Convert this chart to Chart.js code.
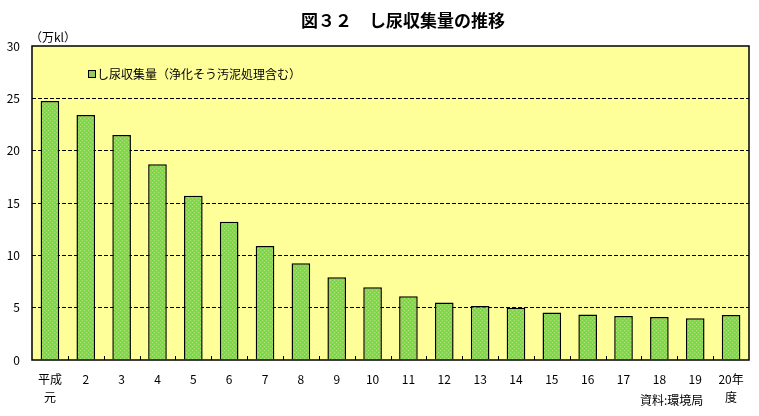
<!DOCTYPE html>
<html>
<head>
<meta charset="utf-8">
<script src="https://cdn.jsdelivr.net/npm/chart.js@4.4.0/dist/chart.umd.min.js"></script>
<style>
  html, body { margin: 0; padding: 0; background: #fff; }
  #wrap { width: 759px; height: 416px; position: relative; }
</style>
</head>
<body>
<div id="wrap"><canvas id="chart" width="759" height="416"></canvas></div>
<script>
// 年度ラベル
let years = [['平成', '元'], '2', '3', '4', '5', '6', '7', '8', '9', '10',
    '11', '12', '13', '14', '15', '16', '17', '18', '19', ['20年', '度']];

// し尿収集量（万kl）
let collected = [24.75, 23.4, 21.5, 18.7, 15.7, 13.2, 10.9, 9.25, 7.9, 6.95,
    6.1, 5.5, 5.15, 5.0, 4.55, 4.35, 4.2, 4.1, 4.0, 4.3];

let yTicks = [0, 5, 10, 15, 20, 25, 30];

let titleText = '図３２　し尿収集量の推移';
let unitText = '（万kl）';
let legendText = 'し尿収集量（浄化そう汚泥処理含む）';
let sourceText = '資料:環境局';

const FONT = '"Noto Sans CJK JP", "DejaVu Sans", sans-serif';

// dotted green fill like the original
function makePattern() {
    let c = document.createElement('canvas');
    c.width = 4;
    c.height = 4;
    let g = c.getContext('2d');
    g.fillStyle = '#96cc5e';
    g.fillRect(0, 0, 4, 4);
    g.fillStyle = '#6cd83a';
    g.fillRect(0, 0, 1, 1);
    g.fillRect(2, 2, 1, 1);
    g.fillStyle = '#b6e07e';
    g.fillRect(2, 0, 1, 1);
    g.fillRect(0, 2, 1, 1);
    return g.createPattern(c, 'repeat');
}

// yellow plot area, solid frame, inner tick marks, texts
const decor = {
    id: 'decor',
    beforeDraw(chart) {
        let a = chart.chartArea;
        let ctx = chart.ctx;
        ctx.save();
        ctx.fillStyle = '#ffff99';
        ctx.fillRect(a.left, a.top, a.right - a.left, a.bottom - a.top);
        ctx.restore();
    },
    afterDatasetsDraw(chart) {
        let a = chart.chartArea;
        let ctx = chart.ctx;
        ctx.save();
        ctx.strokeStyle = '#000';
        ctx.lineWidth = 1.5;
        ctx.strokeRect(a.left, a.top, a.right - a.left, a.bottom - a.top);
        // category boundary ticks pointing up
        ctx.lineWidth = 1;
        let step = (a.right - a.left) / years.length;
        for (let i = 1; i < years.length; i++) {
            let px = Math.round(a.left + step * i) + 0.5;
            ctx.beginPath();
            ctx.moveTo(px, a.bottom);
            ctx.lineTo(px, a.bottom - 4);
            ctx.stroke();
        }
        ctx.restore();
    },
    afterDraw(chart) {
        let ctx = chart.ctx;
        ctx.save();
        ctx.fillStyle = '#000';
        ctx.textBaseline = 'middle';

        ctx.font = 'bold 17px ' + FONT;
        ctx.textAlign = 'center';
        ctx.fillText(titleText, 403, 21);

        ctx.font = '12px ' + FONT;
        ctx.textAlign = 'left';
        ctx.fillText(unitText, 30, 37);

        // legend
        ctx.fillStyle = '#96cc5e';
        ctx.fillRect(88, 70, 7, 7);
        ctx.strokeStyle = '#000';
        ctx.lineWidth = 1;
        ctx.strokeRect(88.5, 70.5, 7, 7);
        ctx.fillStyle = '#000';
        ctx.fillText(legendText, 97, 74);

        ctx.fillText(sourceText, 640, 400);
        ctx.restore();
    }
};

let ctx = document.getElementById('chart').getContext('2d');
let myChart = new Chart(ctx, {
    type: 'bar',
    data: {
        labels: years,
        datasets: [{
            label: legendText,
            data: collected,
            backgroundColor: makePattern(),
            borderColor: '#000',
            borderWidth: 1.5,
            categoryPercentage: 1,
            barPercentage: 0.52
        }]
    },
    options: {
        responsive: false,
        animation: false,
        layout: { padding: { top: 46, right: 10, left: 0, bottom: 0 } },
        plugins: {
            legend: { display: false },
            tooltip: { enabled: false }
        },
        scales: {
            x: {
                afterFit(scale) { scale.height = 56; },
                grid: { display: false, drawTicks: false },
                border: { display: false },
                ticks: {
                    color: '#000',
                    padding: 11,
                    font: { family: FONT, size: 12, lineHeight: 1.45 },
                    maxRotation: 0,
                    autoSkip: false
                }
            },
            y: {
                min: 0,
                max: 30,
                afterFit(scale) { scale.width = 32; },
                afterBuildTicks(scale) {
                    scale.ticks = yTicks.map(v => ({ value: v }));
                },
                grid: {
                    drawTicks: false,
                    color: c => (c.tick.value > 0 && c.tick.value < 30) ? '#000' : 'rgba(0,0,0,0)',
                    lineWidth: 1
                },
                border: { display: false, dash: [4, 2] },
                ticks: {
                    color: '#000',
                    padding: 12,
                    font: { family: FONT, size: 12 }
                }
            }
        }
    },
    plugins: [decor]
});
</script>
</body>
</html>
